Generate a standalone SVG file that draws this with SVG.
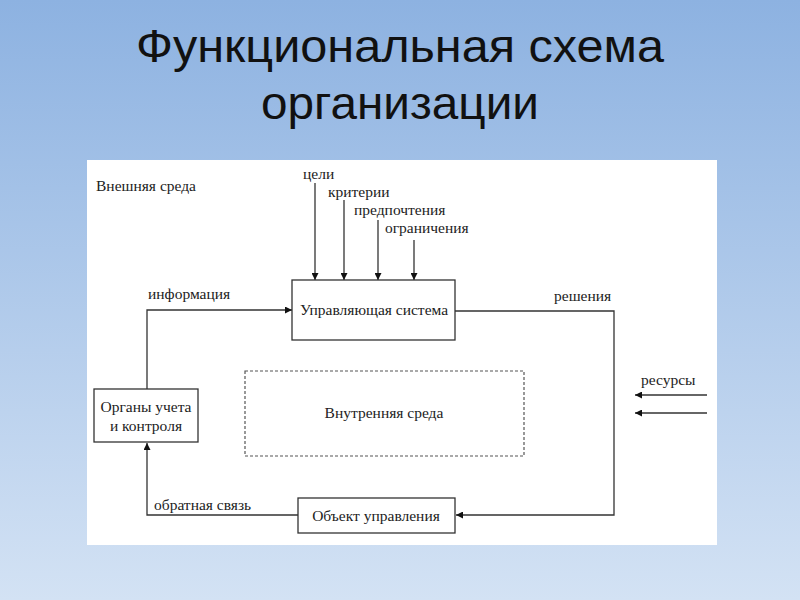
<svg xmlns="http://www.w3.org/2000/svg" width="800" height="600" viewBox="0 0 800 600">
<defs>
<linearGradient id="bg" x1="0" y1="0" x2="0" y2="1">
<stop offset="0" stop-color="#8db2e1"/>
<stop offset="1" stop-color="#d3e2f4"/>
</linearGradient>
<marker id="ah" viewBox="0 0 10 10" refX="10" refY="5" markerWidth="7" markerHeight="7" markerUnits="userSpaceOnUse" orient="auto">
<path d="M0,0 L10,5 L0,10 Z" fill="#111"/>
</marker>
<style>
.t{font-family:"Liberation Serif","Times New Roman",serif;font-size:15.5px;fill:#222}
.c{text-anchor:middle}
.box{fill:#fff;stroke:#333;stroke-width:1.3}
.dash{fill:none;stroke:#555;stroke-width:1.2;stroke-dasharray:3 2}
.ln{fill:none;stroke:#333;stroke-width:1.3}
.ar{marker-end:url(#ah)}
.title{font-family:"Liberation Sans",Arial,sans-serif;font-size:46px;fill:#111;text-anchor:middle}
</style>
</defs>
<rect width="800" height="600" fill="url(#bg)"/>
<text class="title" x="400" y="62" textLength="528" lengthAdjust="spacingAndGlyphs">Функциональная схема</text>
<text class="title" x="400" y="119" textLength="278" lengthAdjust="spacingAndGlyphs">организации</text>
<rect x="87" y="160" width="630" height="385" fill="#fff"/>
<text class="t" x="96" y="191">Внешняя среда</text>
<g id="connectors">
<line class="ln ar" x1="315" y1="183" x2="315" y2="280"/>
<line class="ln ar" x1="344" y1="200" x2="344" y2="280"/>
<line class="ln ar" x1="378" y1="220" x2="378" y2="280"/>
<line class="ln ar" x1="414" y1="240" x2="414" y2="280"/>
<polyline class="ln ar" points="147,389 147,310 292,310"/>
<polyline class="ln ar" points="455,311 614,311 614,515 456,515"/>
<polyline class="ln ar" points="298,515 147,515 147,443"/>
<line class="ln ar" x1="707" y1="395" x2="635" y2="395"/>
<line class="ln ar" x1="707" y1="413" x2="635" y2="413"/>
<text class="t" x="303" y="179">цели</text>
<text class="t" x="328" y="197">критерии</text>
<text class="t" x="354" y="215">предпочтения</text>
<text class="t" x="385" y="233">ограничения</text>
<text class="t" x="148" y="299">информация</text>
<text class="t" x="554" y="301">решения</text>
<text class="t" x="641" y="385">ресурсы</text>
<text class="t" x="154" y="510">обратная связь</text>
</g>
<g id="upr">
<rect class="box" x="292" y="280" width="163" height="60"/>
<text class="t c" x="374" y="315">Управляющая система</text>
</g>
<g id="vnutr">
<rect class="dash" x="245" y="371" width="279" height="85"/>
<text class="t c" x="384" y="418">Внутренняя среда</text>
</g>
<g id="organy">
<rect class="box" x="94" y="389" width="104" height="53"/>
<text class="t c" x="146" y="412">Органы учета</text>
<text class="t c" x="146" y="431">и контроля</text>
</g>
<g id="obj">
<rect class="box" x="298" y="498" width="157" height="35"/>
<text class="t c" x="376" y="521">Объект управления</text>
</g>
</svg>
